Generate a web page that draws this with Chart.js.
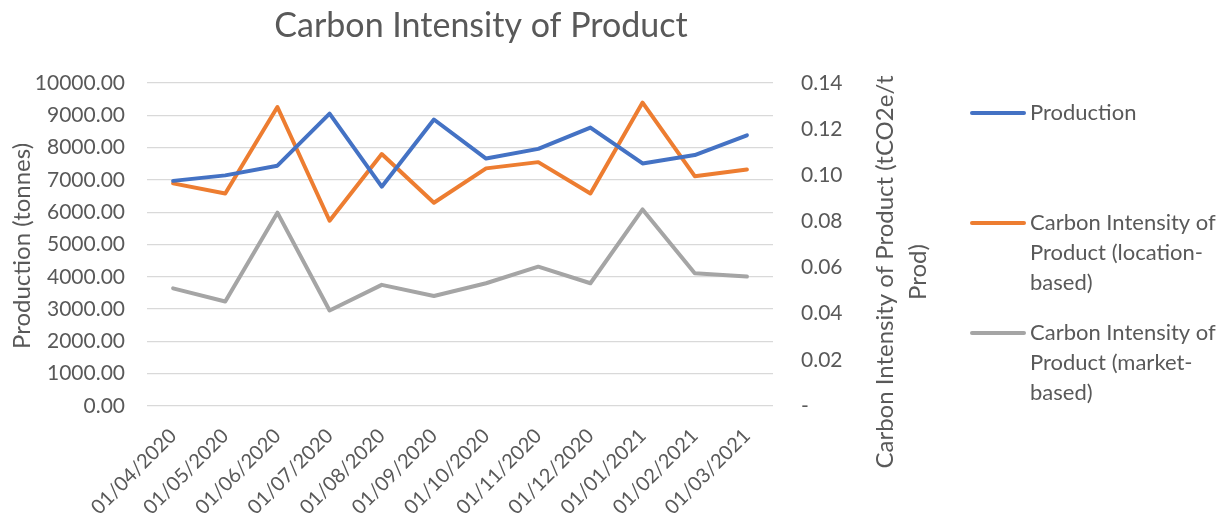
<!DOCTYPE html>
<html>
<head>
<meta charset="utf-8">
<script src="https://cdn.jsdelivr.net/npm/chart.js@4"></script>
<style>
  html, body { margin: 0; padding: 0; background: #fff; }
  #wrap { width: 1226px; height: 521px; }
</style>
</head>
<body>
<div id="wrap"><canvas id="chart" width="1226" height="521"></canvas></div>
<script>
const months = ['01/04/2020', '01/05/2020', '01/06/2020', '01/07/2020', '01/08/2020', '01/09/2020',
  '01/10/2020', '01/11/2020', '01/12/2020', '01/01/2021', '01/02/2021', '01/03/2021'];
const production = [6970, 7140, 7440, 9050, 6790, 8870, 7660, 7960, 8620, 7510, 7770, 8380];
const intensityLocation = [0.0965, 0.0921, 0.1296, 0.0803, 0.1092, 0.0881, 0.1030, 0.1057, 0.0921, 0.1315, 0.0996, 0.1025];
const intensityMarket = [0.0510, 0.0453, 0.0838, 0.0414, 0.0525, 0.0477, 0.0532, 0.0604, 0.0532, 0.0852, 0.0575, 0.0561];

const TEXT = '#595959';
const FONT = 'Lato, "Open Sans", sans-serif';

// title, right axis title (reads bottom-to-top) and the legend, drawn like Excel does
const decorations = {
  id: 'decorations',
  afterDraw(chart) {
    const ctx = chart.ctx;
    ctx.save();
    ctx.fillStyle = TEXT;
    ctx.textAlign = 'center';
    ctx.textBaseline = 'middle';
    ctx.font = '34px ' + FONT;
    ctx.fillText('Carbon Intensity of Product', 481, 26);

    ctx.font = '24px ' + FONT;
    ctx.save();
    ctx.translate(22, 246);
    ctx.rotate(-Math.PI / 2);
    ctx.fillText('Production (tonnes)', 0, 0);
    ctx.restore();

    ctx.save();
    ctx.translate(885, 272);
    ctx.rotate(-Math.PI / 2);
    ctx.fillText('Carbon Intensity of Product (tCO2e/t', 0, 0);
    ctx.fillText('Prod)', 0, 33);
    ctx.restore();

    const legendRows = [
      { lines: ['Production'], y: 113 },
      { lines: ['Carbon Intensity of', 'Product (location-', 'based)'], y: 223 },
      { lines: ['Carbon Intensity of', 'Product (market-', 'based)'], y: 333 }
    ];
    ctx.font = '22px ' + FONT;
    ctx.textAlign = 'left';
    legendRows.forEach((row, i) => {
      const ds = chart.data.datasets[i];
      ctx.strokeStyle = ds.borderColor;
      ctx.lineWidth = 4;
      ctx.lineCap = 'round';
      ctx.beginPath();
      ctx.moveTo(972, row.y);
      ctx.lineTo(1024, row.y);
      ctx.stroke();
      row.lines.forEach((t, k) => ctx.fillText(t, 1030, row.y + k * 30));
    });
    ctx.restore();
  }
};

new Chart(document.getElementById('chart'), {
  type: 'line',
  data: {
    labels: months,
    datasets: [
      { label: 'Production', data: production, borderColor: '#4472C4', yAxisID: 'y' },
      { label: 'Carbon Intensity of Product (location-based)', data: intensityLocation, borderColor: '#ED7D31', yAxisID: 'y1' },
      { label: 'Carbon Intensity of Product (market-based)', data: intensityMarket, borderColor: '#A5A5A5', yAxisID: 'y1' }
    ]
  },
  options: {
    responsive: false,
    animation: false,
    layout: { padding: { top: 83, right: 293, left: 0, bottom: 0 } },
    elements: {
      line: { borderWidth: 4, tension: 0, borderCapStyle: 'round', borderJoinStyle: 'round' },
      point: { radius: 0 }
    },
    plugins: { legend: { display: false }, title: { display: false }, tooltip: { enabled: false } },
    scales: {
      x: {
        offset: true,
        grid: { display: false },
        border: { display: false },
        ticks: { color: TEXT, font: { family: FONT, size: 20 }, minRotation: 45, maxRotation: 45, padding: 10 },
        afterFit(scale) { scale.height = 115; }
      },
      y: {
        position: 'left',
        min: 0, max: 10000,
        ticks: { stepSize: 1000, color: TEXT, font: { family: FONT, size: 21 }, padding: 22,
          callback: v => v.toFixed(2) },
        grid: { color: '#d9d9d9', lineWidth: 1.3, drawTicks: false },
        border: { display: false },
        afterFit(scale) { scale.width = 147; }
      },
      y1: {
        position: 'right',
        min: 0, max: 0.14,
        ticks: { stepSize: 0.02, color: TEXT, font: { family: FONT, size: 21 }, padding: 28,
          callback: v => (Math.abs(v) < 1e-9 ? '-' : v.toFixed(2)) },
        grid: { display: false, drawTicks: false },
        border: { display: false },
        afterFit(scale) { scale.width = 160; }
      }
    }
  },
  plugins: [decorations]
});
</script>
</body>
</html>
